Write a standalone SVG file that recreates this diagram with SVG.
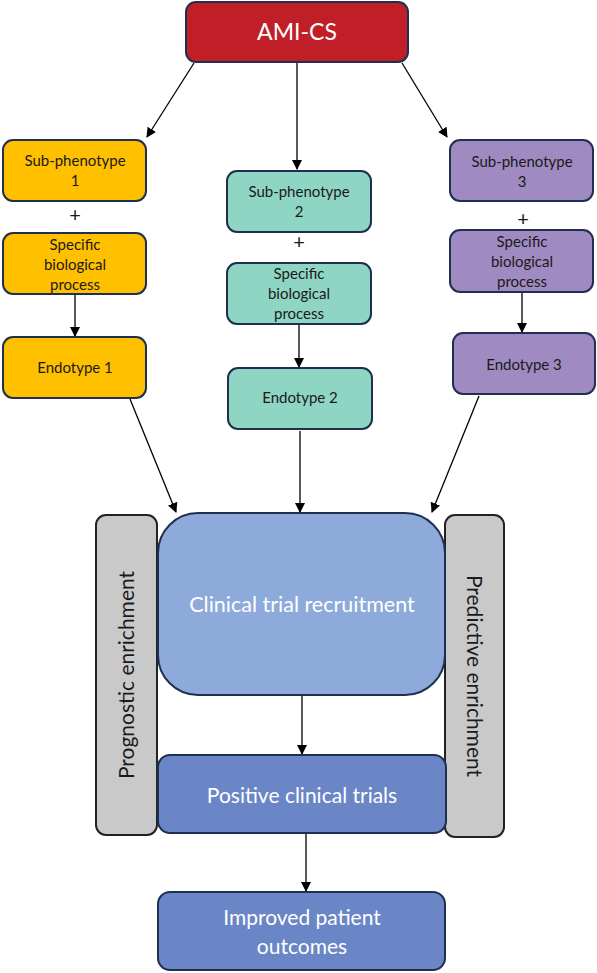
<svg xmlns="http://www.w3.org/2000/svg" width="597" height="973" viewBox="0 0 597 973">
<defs>
<marker id="ah" markerWidth="10" markerHeight="10" refX="9" refY="5" orient="auto" markerUnits="userSpaceOnUse">
<path d="M0,0 L10,5 L0,10 Z" fill="#000"/>
</marker>
<style>
.t{font-family:Lato,"Open Sans","Liberation Sans",sans-serif;text-anchor:middle;}
.s{font-size:15px;fill:#1a1a1a;}
.p{font-size:20px;fill:#1a1a1a;}
.w{fill:#fff;}
.box{stroke:#1F2F4F;stroke-width:2;}
.yel{fill:#FFC000;}
.tea{fill:#8FD5C3;}
.pur{fill:#9F8AC1;}
.gry{fill:#C9C9C9;stroke:#222;stroke-width:2;}
.c{stroke:#000;stroke-width:1.3;fill:none;marker-end:url(#ah);}
</style>
</defs>
<rect width="597" height="973" fill="#fff"/>

<g id="connectors">
<line class="c" x1="194" y1="63" x2="147" y2="137"/>
<line class="c" x1="297" y1="63" x2="297" y2="169"/>
<line class="c" x1="402" y1="63" x2="447" y2="137"/>
<line class="c" x1="75" y1="295" x2="75" y2="336"/>
<line class="c" x1="299" y1="325" x2="299" y2="367"/>
<line class="c" x1="522" y1="293" x2="522" y2="332"/>
<line class="c" x1="130" y1="399" x2="176" y2="512"/>
<line class="c" x1="300" y1="431" x2="300" y2="512"/>
<line class="c" x1="479" y1="396" x2="432" y2="512"/>
<line class="c" x1="302" y1="696" x2="302" y2="754"/>
<line class="c" x1="306" y1="834" x2="306" y2="891"/>
</g>

<g id="ami-cs">
<rect class="box" x="186" y="2" width="222" height="60" rx="10" fill="#C01F28"/>
<text class="t w" x="297" y="40" style="font-size:23px">AMI-CS</text>
</g>

<g id="sub1">
<rect class="box yel" x="3" y="140" width="143" height="61" rx="10"/>
<text class="t s" x="75" y="166">Sub-phenotype</text>
<text class="t s" x="75" y="186">1</text>
</g>
<g id="plus1"><text class="t p" x="75" y="222">+</text></g>
<g id="proc1">
<rect class="box yel" x="3" y="233" width="143" height="61" rx="10"/>
<text class="t s" x="75" y="250">Specific</text>
<text class="t s" x="75" y="270">biological</text>
<text class="t s" x="75" y="290">process</text>
</g>
<g id="endo1">
<rect class="box yel" x="3" y="337" width="143" height="61" rx="10"/>
<text class="t s" x="75" y="373">Endotype 1</text>
</g>

<g id="sub2">
<rect class="box tea" x="227" y="171" width="144" height="61" rx="10"/>
<text class="t s" x="299" y="197">Sub-phenotype</text>
<text class="t s" x="299" y="217">2</text>
</g>
<g id="plus2"><text class="t p" x="299" y="249">+</text></g>
<g id="proc2">
<rect class="box tea" x="227" y="263" width="144" height="61" rx="10"/>
<text class="t s" x="299" y="279">Specific</text>
<text class="t s" x="299" y="299">biological</text>
<text class="t s" x="299" y="319">process</text>
</g>
<g id="endo2">
<rect class="box tea" x="228" y="368" width="144" height="61" rx="10"/>
<text class="t s" x="300" y="403">Endotype 2</text>
</g>

<g id="sub3">
<rect class="box pur" x="450" y="140" width="143" height="61" rx="10"/>
<text class="t s" x="522" y="167">Sub-phenotype</text>
<text class="t s" x="522" y="187">3</text>
</g>
<g id="plus3"><text class="t p" x="523" y="226">+</text></g>
<g id="proc3">
<rect class="box pur" x="450" y="230" width="143" height="62" rx="10"/>
<text class="t s" x="522" y="247">Specific</text>
<text class="t s" x="522" y="267">biological</text>
<text class="t s" x="522" y="287">process</text>
</g>
<g id="endo3">
<rect class="box pur" x="453" y="333" width="142" height="61" rx="10"/>
<text class="t s" x="524" y="370">Endotype 3</text>
</g>

<g id="prognostic">
<rect class="gry" x="96" y="515" width="61" height="320" rx="10"/>
<text class="t" x="0" y="0" fill="#1a1a1a" style="font-size:21px" transform="translate(134,675) rotate(-90)">Prognostic enrichment</text>
</g>
<g id="predictive">
<rect class="gry" x="445" y="515" width="59" height="322" rx="10"/>
<text class="t" x="0" y="0" fill="#1a1a1a" style="font-size:21px" transform="translate(467,676) rotate(90)">Predictive enrichment</text>
</g>

<g id="recruitment">
<rect class="box" x="158" y="513" width="287" height="182" rx="40" fill="#8EAADA"/>
<text class="t w" x="302" y="612" style="font-size:21.5px">Clinical trial recruitment</text>
</g>
<g id="positive">
<rect class="box" x="158" y="755" width="288" height="78" rx="12" fill="#6A86C6"/>
<text class="t w" x="302" y="803" style="font-size:21px">Positive clinical trials</text>
</g>
<g id="outcomes">
<rect class="box" x="158" y="892" width="287" height="78" rx="12" fill="#6A86C6"/>
<text class="t w" x="302" y="925" style="font-size:21px">Improved patient</text>
<text class="t w" x="302" y="954" style="font-size:21px">outcomes</text>
</g>
</svg>
